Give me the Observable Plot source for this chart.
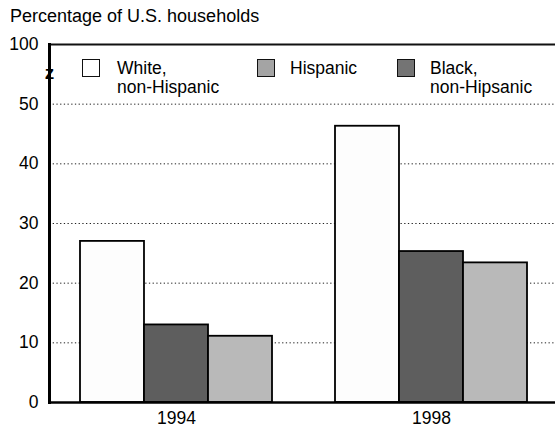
<!DOCTYPE html>
<html><head><meta charset="utf-8">
<script src="https://cdn.jsdelivr.net/npm/d3@7"></script>
<script src="https://cdn.jsdelivr.net/npm/@observablehq/plot@0.6"></script>
<style>
body{margin:0;background:#fff;}
#wrap{position:relative;width:555px;height:428px;font-family:"Liberation Sans",Arial,sans-serif;color:#000;overflow:hidden;}
#wrap svg{position:absolute;left:0;top:0;}
.t{position:absolute;font-size:17.5px;line-height:19px;white-space:nowrap;}
.sw{position:absolute;width:18px;height:18px;box-sizing:border-box;border:1.6px solid #111;}
</style></head><body>
<div id="wrap"></div>
<script>
// ---- data ----
const years = ["1994", "1998"];
const series = ["White, non-Hispanic", "Hispanic", "Black, non-Hipsanic"];
const whiteValues = [27.0, 46.3];
const hispanicValues = [13.0, 25.3];
const blackValues = [11.1, 23.4];
const yTicks = [0, 10, 20, 30, 40, 50, 60];
const yTickLabels = ["0", "10", "20", "30", "40", "50", "100"];
const breakAt = [55];
const titleText = "Percentage of U.S. households";

// ---- build ----
const valuesBySeries = [whiteValues, hispanicValues, blackValues];
const rows = years.flatMap((yr, i) => series.map((s, k) => ({year: yr, series: s, value: valuesBySeries[k][i]})));
const barFills = ["#fdfdfd", "#5e5e5e", "#b9b9b9"];
const swatchFills = ["#ffffff", "#a4a4a4", "#747474"];

const W = 555, ML = 49, MR = 0;
const xRange = [ML, 559];
const padIn = 0.247, padOut = 0.1235;
const step = (xRange[1] - xRange[0]) / (years.length - padIn + 2 * padOut);
const sub = step * (1 - padIn) / series.length;

const font = '"Liberation Sans", Arial, sans-serif';
const chart = Plot.plot({
  width: W, height: 428,
  marginLeft: ML, marginRight: MR, marginTop: 44, marginBottom: 26,
  style: {fontFamily: font, fontSize: "17px", background: "white", color: "#000"},
  x: {domain: years, range: xRange, paddingInner: padIn, paddingOuter: padOut, align: 0.5, label: null},
  y: {domain: [0, 60], label: null},
  marks: [
    Plot.ruleY(yTicks.filter(t => t > 0 && t < 60), {stroke: "#222", strokeWidth: 1, strokeDasharray: "1.3,2.4"}),
    Plot.ruleY([60], {stroke: "#111", strokeWidth: 2.2}),
    ...series.map((s, k) => Plot.barY(rows.filter(r => r.series === s), {
      x: "year", y: "value", fill: barFills[k], stroke: "#000", strokeWidth: 1.8,
      insetLeft: k * sub, insetRight: (series.length - 1 - k) * sub
    })),
    Plot.ruleY([0], {stroke: "#000", strokeWidth: 2.5}),
    Plot.frame({anchor: "left", stroke: "#000", strokeWidth: 3}),
    Plot.axisY({ticks: yTicks, tickFormat: d => yTickLabels[yTicks.indexOf(d)], tickSize: 0, tickPadding: 11, fontSize: 17.5, label: null}),
    Plot.axisX({tickSize: 0, tickPadding: 9, fontSize: 17.5, label: null}),
    Plot.text(breakAt, {y: d => d, frameAnchor: "left", textAnchor: "middle", text: () => "z", fontWeight: "bold", fontSize: 19, fill: "#000", dy: -1})
  ]
});

const wrap = document.getElementById("wrap");
wrap.appendChild(chart);

function addText(txt, left, top, size) {
  const d = document.createElement("div");
  d.className = "t"; d.style.left = left + "px"; d.style.top = top + "px";
  if (size) d.style.fontSize = size + "px";
  d.innerHTML = txt; wrap.appendChild(d);
}
function addSwatch(fill, left, top) {
  const d = document.createElement("div");
  d.className = "sw"; d.style.left = left + "px"; d.style.top = top + "px";
  d.style.background = fill; wrap.appendChild(d);
}
addText(titleText, 10, 7, 18);
const legendPos = [[82, 117], [257, 290], [397, 430]];
series.map((s, k) => {
  addSwatch(swatchFills[k], legendPos[k][0], 59);
  addText(s.replace(", ", ",<br>"), legendPos[k][1], 59);
});
</script>
</body></html>
